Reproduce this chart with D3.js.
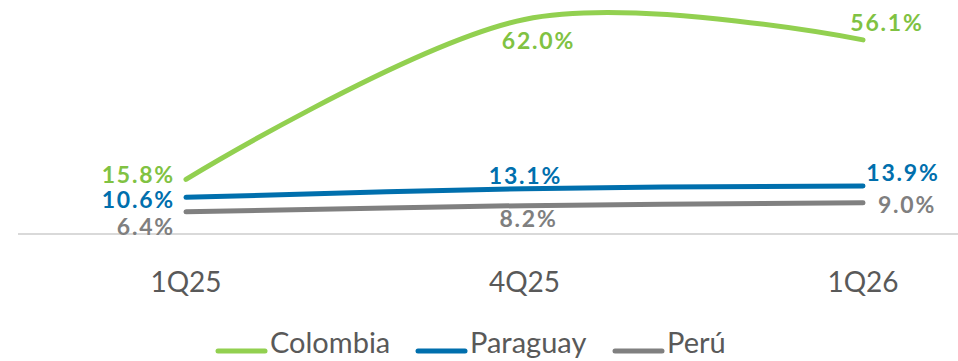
<!DOCTYPE html>
<html>
<head>
<meta charset="utf-8">
<script src="https://cdn.jsdelivr.net/npm/d3@7"></script>
<style>
  body { margin: 0; background: #fff; }
  svg { display: block; }
</style>
</head>
<body>
<svg width="958" height="361"></svg>
<script>
// chart data
var quarters = ["1Q25", "4Q25", "1Q26"];
var colombia = [15.8, 62.0, 56.1];
var paraguay = [10.6, 13.1, 13.9];
var peru = [6.4, 8.2, 9.0];

var seriesNames = ["Colombia", "Paraguay", "Perú"];
var seriesColors = ["#92D050", "#006FAD", "#808080"];
var labelColors = ["#80C242", "#006FAD", "#7F7F7F"];

var series = [colombia, paraguay, peru];

var svg = d3.select("svg"),
    width = +svg.attr("width"),
    height = +svg.attr("height");

var x = d3.scalePoint()
    .domain(quarters)
    .range([186, 863]);

var y = d3.scaleLinear()
    .domain([0, 62])
    .range([234, 19.5]);

// baseline
svg.append("line")
    .attr("x1", 18).attr("x2", 958)
    .attr("y1", y(0)).attr("y2", y(0))
    .attr("stroke", "#D9D9D9")
    .attr("stroke-width", 2);

var line = d3.line()
    .x(function(d, i) { return x(quarters[i]); })
    .y(function(d) { return y(d); })
    .curve(d3.curveCatmullRom.alpha(0));

svg.append("g").selectAll("path")
    .data(series)
    .enter().append("path")
      .attr("d", line)
      .attr("fill", "none")
      .attr("stroke", function(d, i) { return seriesColors[i]; })
      .attr("stroke-width", 5)
      .attr("stroke-linecap", "round");

// data labels: [dx, dy, anchor] per series per point
var labelPos = [
  [[-11, -4, "end"], [14, 21, "middle"], [24, -17, "middle"]],
  [[-11, 2.5, "end"], [1, -13, "middle"], [40, -13, "middle"]],
  [[-11, 15, "end"], [4, 13, "middle"], [44, 2, "middle"]]
];

var labels = svg.append("g")
    .attr("font-family", "Lato, sans-serif")
    .attr("font-weight", 700)
    .attr("font-size", 23)
    .attr("letter-spacing", 1.8);

series.forEach(function(s, si) {
  labels.selectAll("text.s" + si)
    .data(s)
    .enter().append("text")
      .attr("class", "s" + si)
      .attr("x", function(d, i) { return x(quarters[i]) + labelPos[si][i][0]; })
      .attr("y", function(d, i) { return y(d) + labelPos[si][i][1]; })
      .attr("dy", "0.35em")
      .attr("text-anchor", function(d, i) { return labelPos[si][i][2]; })
      .attr("fill", labelColors[si])
      .text(function(d) { return d.toFixed(1) + "%"; });
});

// x axis labels
svg.append("g")
    .attr("font-family", "Lato, sans-serif")
    .attr("font-size", 28)
    .attr("fill", "#595959")
  .selectAll("text")
  .data(quarters)
  .enter().append("text")
    .attr("x", function(d) { return x(d); })
    .attr("y", 282)
    .attr("dy", "0.35em")
    .attr("text-anchor", "middle")
    .text(function(d) { return d; });

// legend
var legendX = [218, 418, 615];
var legend = svg.append("g").selectAll("g")
    .data(seriesNames)
    .enter().append("g")
      .attr("transform", function(d, i) { return "translate(" + legendX[i] + ",351)"; });

legend.append("line")
    .attr("x1", 0).attr("x2", 47)
    .attr("stroke", function(d, i) { return seriesColors[i]; })
    .attr("stroke-width", 5)
    .attr("stroke-linecap", "round");

legend.append("text")
    .attr("x", 52)
    .attr("y", 2)
    .attr("font-family", "Lato, sans-serif")
    .attr("font-size", 29)
    .attr("fill", "#595959")
    .text(function(d) { return d; });
</script>
</body>
</html>
